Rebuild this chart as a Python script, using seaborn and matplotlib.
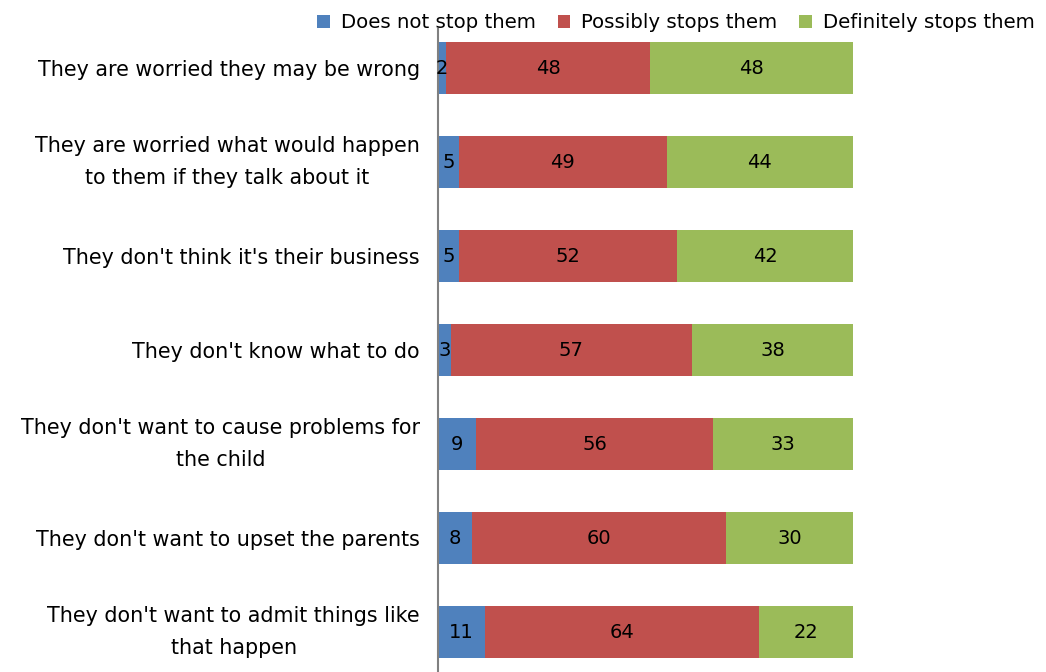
import matplotlib
matplotlib.use("Agg")
import matplotlib.pyplot as plt
import seaborn as sns
import pandas as pd
import numpy as np
from matplotlib.patches import Patch

categories = [
    "They are worried they may be wrong",
    "They are worried what would happen\nto them if they talk about it",
    "They don't think it's their business",
    "They don't know what to do",
    "They don't want to cause problems for\nthe child",
    "They don't want to upset the parents",
    "They don't want to admit things like\nthat happen",
]
does_not = [2, 5, 5, 3, 9, 8, 11]
possibly = [48, 49, 52, 57, 56, 60, 64]
definitely = [48, 44, 42, 38, 33, 30, 22]
series_names = ["Does not stop them", "Possibly stops them", "Definitely stops them"]
colors = ["#4F81BD", "#C0504D", "#9BBB59"]

sns.set_theme(style="white")
plt.rcParams['font.family'] = ['DejaVu Sans']
plt.rcParams['text.color'] = 'black'

vals = np.array([does_not, possibly, definitely], dtype=float)
totals = vals.sum(axis=0)
pct = vals / totals * 100
cum = np.cumsum(pct, axis=0)
starts = cum - pct

fig = plt.figure(figsize=(10.46, 6.72), dpi=100)
ax = fig.add_axes([438/1046, (672-679)/672, 415/1046, 658/672])

for i in reversed(range(3)):
    df = pd.DataFrame({"cat": categories, "val": cum[i]})
    sns.barplot(data=df, y="cat", x="val", color=colors[i], orient="h",
                width=0.56, ax=ax, saturation=1, edgecolor="none", linewidth=0)

for i in range(3):
    for j in range(len(categories)):
        ax.text(starts[i][j] + pct[i][j]/2, j, str(int(vals[i][j])),
                ha="center", va="center", fontsize=14, color="black")

ax.set_xlim(0, 100)
ax.set_ylim(6.5, -0.5)
ax.set_xlabel("")
ax.set_ylabel("")
ax.set_xticks([])
ax.tick_params(axis="y", length=0, pad=13, labelsize=14.9, labelcolor="black")
for lbl in ax.get_yticklabels():
    lbl.set_multialignment("center")
    lbl.set_linespacing(1.75)
    if "\n" in lbl.get_text():
        lbl.set_verticalalignment("center")
for s in ["top", "right", "bottom"]:
    ax.spines[s].set_visible(False)
ax.spines["left"].set_color("#808080")
ax.spines["left"].set_linewidth(1.5)
ax.spines["left"].set_bounds(-0.42, 6.5)
ax.patch.set_alpha(0)

handles = [Patch(facecolor=c, edgecolor="none") for c in colors]
fig.legend(handles, series_names, loc="center", bbox_to_anchor=(676/1046, 1 - 23/672),
           ncol=3, frameon=False, fontsize=14.2, handlelength=0.65, handleheight=0.65,
           handletextpad=0.55, columnspacing=1.1, borderpad=0, labelcolor="black")

fig.savefig("out.png", dpi=100)
